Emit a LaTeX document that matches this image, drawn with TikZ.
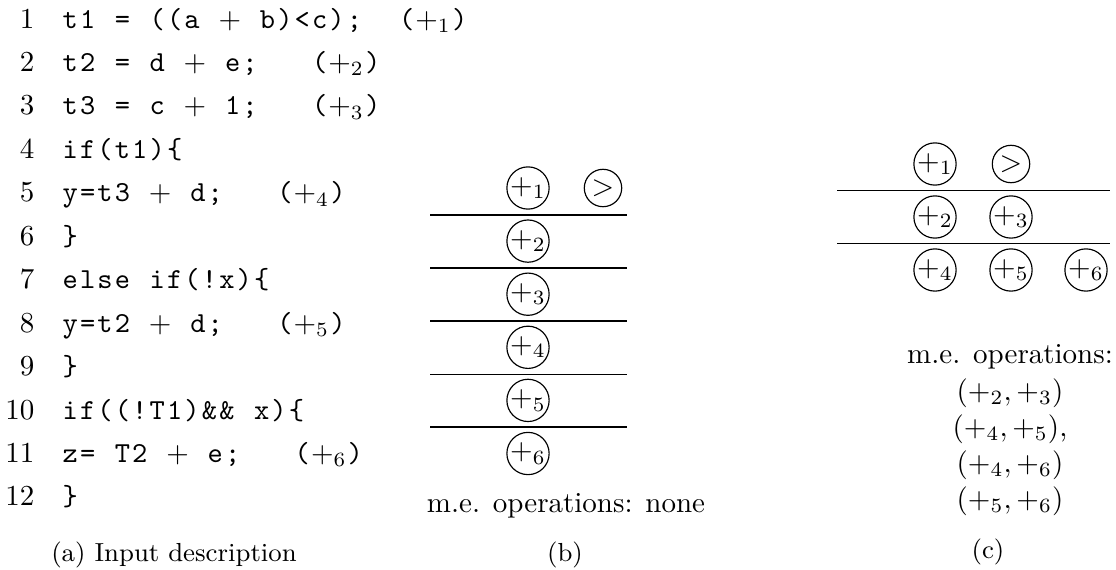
\documentclass[tikz,border=0pt]{standalone}
\makeatletter
\newcommand\cdplus{\makebox[8pt]{$+$}}
\def\cd@plustok{\cdplus}
\newcommand\codeln[1]{\@tfor\cd@tok:=#1\do{\ifx\cd@tok\cd@plustok\cdplus\else\makebox[6pt]{\cd@tok}\fi}}
\makeatother
\newcommand\anno[1]{$+_{#1}$\makebox[6pt]{)}}
\tikzset{
  codeline/.style={anchor=base west, inner sep=0pt, font=\ttfamily},
  lnum/.style={anchor=base east, inner sep=0pt},
  opnode/.style={circle, draw, line width=0.4pt, inner sep=0.1pt, minimum size=12.9pt},
  sepline/.style={line width=0.4pt},
  txt/.style={anchor=base, inner sep=0pt},
  subcap/.style={anchor=base, inner sep=0pt, font=\small}
}
\begin{document}
\begin{tikzpicture}[x=0.3448pt, y=-0.3448pt]
\useasboundingbox (0,0) rectangle (1116,569);
% (a) code
\foreach \n [count=\i from 0] in {1,...,12} {
  \node[lnum] (n\n) at (35, 28+43.45*\i) {\n};
}
\node[codeline] (c1)  at (61, 28.0)  {\codeln{t1~=~((a~\cdplus~b)<c);~~(}\anno{1}};
\node[codeline] (c2)  at (61, 71.45) {\codeln{t2~=~d~\cdplus~e;~~~(}\anno{2}};
\node[codeline] (c3)  at (61, 114.9) {\codeln{t3~=~c~\cdplus~1;~~~(}\anno{3}};
\node[codeline] (c4)  at (61, 158.35){\codeln{if(t1)\{}};
\node[codeline] (c5)  at (61, 201.8) {\codeln{y=t3~\cdplus~d;~~~(}\anno{4}};
\node[codeline] (c6)  at (61, 245.25){\codeln{\}}};
\node[codeline] (c7)  at (61, 288.7) {\codeln{else~if(!x)\{}};
\node[codeline] (c8)  at (61, 332.15){\codeln{y=t2~\cdplus~d;~~~(}\anno{5}};
\node[codeline] (c9)  at (61, 375.6) {\codeln{\}}};
\node[codeline] (c10) at (61, 419.05){\codeln{if((!T1)\&\&~x)\{}};
\node[codeline] (c11) at (61, 462.5) {\codeln{z=~T2~\cdplus~e;~~~(}\anno{6}};
\node[codeline] (c12) at (61, 505.95){\codeln{\}}};
\node[subcap] (capa) at (174, 561) {(a) Input description};
% (b)
\node[opnode] (b1) at (528,188.0) {$+_1$};
\node[opnode] (bg) at (603,188.0) {$>$};
\node[opnode] (b2) at (528,241.1) {$+_2$};
\node[opnode] (b3) at (528,294.2) {$+_3$};
\node[opnode] (b4) at (528,347.3) {$+_4$};
\node[opnode] (b5) at (528,400.4) {$+_5$};
\node[opnode] (b6) at (528,453.5) {$+_6$};
\foreach \yy in {215,268,321,374.5,427} {
  \draw[sepline] (430,\yy) -- (627,\yy);
}
\node[txt] (bme) at (566,512) {m.e. operations: none};
\node[subcap] (capb) at (565,561) {(b)};
% (c)
\node[opnode] (k1) at (935,164) {$+_1$};
\node[opnode] (kg) at (1011,164) {$>$};
\node[opnode] (k2) at (935,217) {$+_2$};
\node[opnode] (k3) at (1011,217) {$+_3$};
\node[opnode] (k4) at (935,270) {$+_4$};
\node[opnode] (k5) at (1011,270) {$+_5$};
\node[opnode] (k6) at (1086,270) {$+_6$};
\foreach \yy in {190.5,243.5} {
  \draw[sepline] (837,\yy) -- (1110,\yy);
}
\node[txt] (cme) at (1010,363) {m.e. operations:};
\node[txt] (cm1) at (1010,400) {$(+_2,+_3)$};
\node[txt] (cm2) at (1010,436) {$(+_4,+_5)$,};
\node[txt] (cm3) at (1010,472) {$(+_4,+_6)$};
\node[txt] (cm4) at (1010,508) {$(+_5,+_6)$};
\node[subcap] (capc) at (988,558) {(c)};
\end{tikzpicture}
\end{document}
